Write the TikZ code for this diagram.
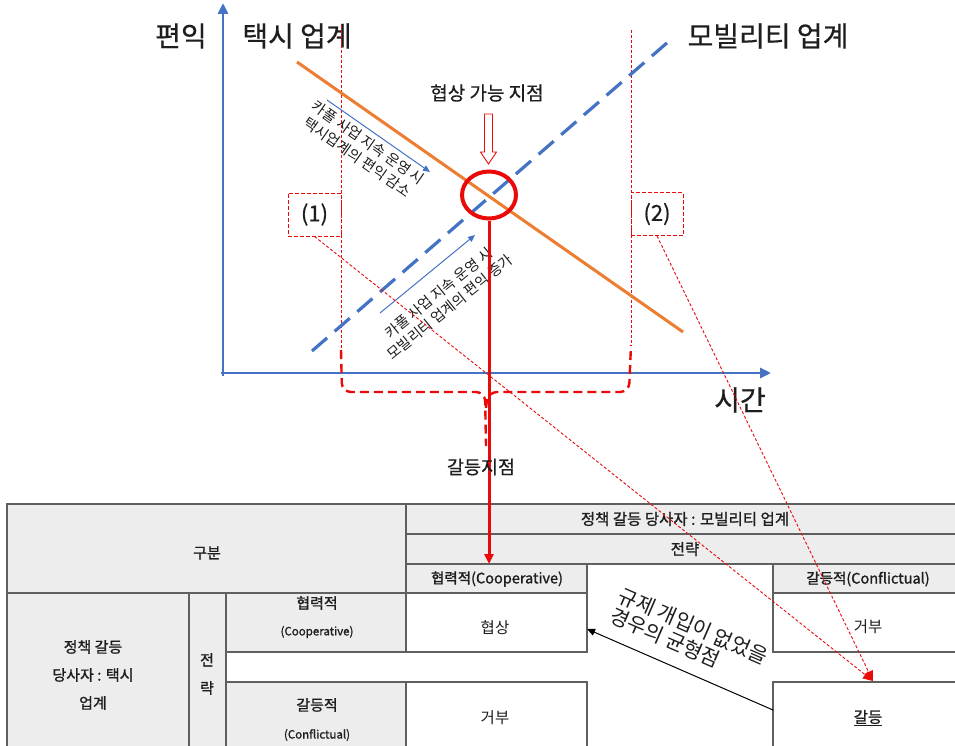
\documentclass[tikz,border=0pt]{standalone}
\usepackage{fontspec}
\setmainfont{Noto Sans CJK KR}
\newfontfamily\hdfont[FakeBold=1.2]{Noto Sans CJK KR}
\newfontfamily\mdfont[FakeBold=0.5]{Noto Sans CJK KR}
\usetikzlibrary{arrows.meta,shapes.geometric}
\definecolor{axblue}{RGB}{68,114,196}
\definecolor{orng}{RGB}{237,125,49}
\definecolor{mred}{RGB}{235,10,10}
\definecolor{cellgray}{RGB}{237,237,237}
\definecolor{tline}{RGB}{95,95,95}
\definecolor{txt}{RGB}{30,30,30}
\begin{document}
\begin{tikzpicture}[x=1pt,y=-1pt,
  lbl/.style={text=txt, inner sep=0pt},
  big/.style={lbl, font=\mdfont\fontsize{28}{32}\selectfont},
  mid/.style={lbl, font=\mdfont\fontsize{19}{22}\selectfont},
  rottext/.style={lbl, font=\fontsize{14.5}{18}\selectfont, align=center},
  tb/.style={lbl, font=\hdfont\fontsize{15}{18}\selectfont},
  tbh/.style={lbl, font=\hdfont\fontsize{14.5}{17}\selectfont},
  tbs/.style={lbl, font=\hdfont\fontsize{11.5}{13}\selectfont},
  tv/.style={lbl, font=\fontsize{15.5}{18}\selectfont},
  cellg/.style={draw=tline, line width=1.3pt, fill=cellgray, inner sep=0pt, outer sep=0pt},
  cellw/.style={draw=tline, line width=1.3pt, fill=white, inner sep=0pt, outer sep=0pt},
  axisline/.style={draw=axblue, line width=2.8pt, -{Triangle[length=11pt,width=10pt]}},
  thinred/.style={draw=mred, line width=0.9pt, dash pattern=on 3pt off 2pt},
  boxred/.style={draw=mred, line width=0.9pt, dash pattern=on 4pt off 2pt, inner sep=0pt, text=txt, font=\mdfont\fontsize{22}{24}\selectfont},
  bracepath/.style={draw=mred, line width=2.4pt, dash pattern=on 9pt off 5pt, rounded corners=9pt},
  hint/.style={draw=axblue, line width=1pt, -{Triangle[length=7pt,width=6pt]}},
]
\fill[white] (0,0) rectangle (955,746);
\useasboundingbox (0,0) rectangle (955,746);

% ---------- table ----------
\node[cellg, minimum width=399pt, minimum height=89pt] (gubun) at (206.5,548.5) {};
\node[cellg, minimum width=557pt, minimum height=30pt] (mob) at (684.5,519) {};
\node[cellg, minimum width=557pt, minimum height=30pt] (strat) at (684.5,549) {};
\node[cellg, minimum width=181pt, minimum height=29pt] (coopH) at (496.5,578.5) {};
\node[cellg, minimum width=190pt, minimum height=29pt] (confH) at (868,578.5) {};
\node[cellg, minimum width=182pt, minimum height=157pt] (taxi) at (98,671.5) {};
\node[cellg, minimum width=37pt, minimum height=157pt] (jr) at (207.5,671.5) {};
\node[cellg, minimum width=180pt, minimum height=59pt] (coopL) at (316,622.5) {};
\node[cellg, minimum width=180pt, minimum height=68pt] (confL) at (316,716) {};
\node[cellw, minimum width=181pt, minimum height=59pt] (hs) at (496.5,622.5) {};
\node[cellw, minimum width=190pt, minimum height=59pt] (gb1) at (868,622.5) {};
\node[cellw, minimum width=181pt, minimum height=68pt] (gb2) at (496.5,716) {};
\node[cellw, minimum width=190pt, minimum height=68pt] (gd) at (868,716) {};

\node[tb] (tgubun) at (207,553) {구분};
\node[tbh, font=\hdfont\fontsize{15.5}{17}\selectfont] (tmob) at (685,519) {정책 갈등 당사자 : 모빌리티 업계};
\node[tbh, font=\hdfont\fontsize{15.5}{17}\selectfont] (tstrat) at (685,549) {전략};
\node[tbh] (tcoopH) at (497,579) {협력적(Cooperative)};
\node[tbh] (tconfH) at (868,579) {갈등적(Conflictual)};
\node[tb, align=center, font=\hdfont\fontsize{15}{28}\selectfont] (ttaxi) at (93,675) {정책 갈등\\당사자 : 택시\\업계};
\node[tb, align=center, font=\hdfont\fontsize{15}{28}\selectfont] (tjr) at (207,674) {전\\략};
\node[tb] (tcoopL) at (317,603) {협력적};
\node[tbs] (tcoopLe) at (317,632) {(Cooperative)};
\node[tb] (tconfL) at (317,705) {갈등적};
\node[tbs] (tconfLe) at (317,735) {(Conflictual)};
\node[tv] (ths) at (495,628) {협상};
\node[tv] (tgb1) at (868,627) {거부};
\node[tv] (tgb2) at (495,718) {거부};
\node[tv, font=\hdfont\fontsize{15.5}{18}\selectfont] (tgd) at (868,718) {\underline{갈등}};

% equilibrium arrow
\draw[black, line width=1pt, -{Triangle[length=8pt,width=7pt]}] ([yshift=6pt]gd.west) -- ([yshift=-6.5pt]hs.east);
\node[lbl, font=\fontsize{20.5}{22}\selectfont, align=left, rotate=-23.5] (eqtext) at (689,636) {규제 개입이 없었을\\경우의 균형점};

% ---------- graph ----------
\coordinate (yb) at (223,376);
\coordinate (yt) at (223,3);
\coordinate (xl) at (221,373);
\coordinate (xr) at (771,373);
\draw[axisline] (yb) -- (yt);
\draw[axisline] (xl) -- (xr);

\node[big] (lpy) at (181,36) {편익};
\node[big] (ltaxi) at (297,36) {택시 업계};
\node[big] (lmob) at (768,36) {모빌리티 업계};
\node[big] (ltime) at (740,400) {시간};

% vertical dotted guides
\coordinate (g1t) at (341,25);
\coordinate (g1b) at (341,350);
\coordinate (g2t) at (631,30);
\coordinate (g2b) at (631,345);
\draw[thinred] (g1t) -- (g1b);
\draw[thinred] (g2t) -- (g2b);

% curves
\coordinate (o1) at (297,62);
\coordinate (o2) at (683,332);
\draw[orng, line width=3pt] (o1) -- (o2);
\coordinate (m1) at (312,351);
\coordinate (m2) at (668,42);
\draw[axblue, line width=3.2pt, dash pattern=on 20pt off 10pt] (m1) -- (m2);

% hint arrows and rotated texts
\coordinate (h1s) at (327,100);
\coordinate (h1e) at (430,172);
\draw[hint] (h1s) -- (h1e);
\node[rottext, rotate=-35] (t1) at (363,150) {카풀 사업 지속 운영 시\\택시업계의 편익 감소};
\coordinate (h2s) at (380,313);
\coordinate (h2e) at (475,235);
\draw[hint] (h2s) -- (h2e);
\node[rottext, rotate=39] (t2) at (444,300) {카풀 사업 지속 운영 시\\모빌리티 업계의 편익 증가};

% boxes (1) (2)
\node[boxred, minimum width=53pt, minimum height=43pt] (b1) at (314.5,214.5) {(1)};
\node[boxred, minimum width=52pt, minimum height=43pt] (b2) at (657,214) {(2)};

% brace
\draw[bracepath] (g1b) -- (342,392) -- (485,392) -- (486,446);
\draw[bracepath] (486,408) -- (488,392) -- (629,392) -- (g2b);

% negotiation point
\node[ellipse, draw=mred, line width=4pt, minimum width=54pt, minimum height=47pt, inner sep=0pt] (circ) at (489,195) {};
\node[mid] (lneg) at (487,93) {협상 가능 지점};
\draw[draw=mred, line width=0.9pt, fill=white] (484.5,114) -- (492.5,114) -- (492.5,152) -- (496.5,152) -- (488.5,164) -- (480.5,152) -- (484.5,152) -- cycle;

\coordinate (ctip) at (489,564);
\draw[mred, line width=3pt, -{Triangle[length=10pt,width=9pt]}] (circ.south) -- (ctip);
\node[mid, font=\mdfont\fontsize{18.5}{22}\selectfont] (lconf) at (481,467) {갈등지점};

% thin red dashed leaders
\coordinate (gdtip) at (873,681);
\draw[thinred, -{Triangle[length=10pt,width=9pt]}] (b1.south) -- (gdtip);
\draw[thinred, -{Triangle[length=10pt,width=9pt]}] (b2.south) -- (gdtip);
\end{tikzpicture}
\end{document}
